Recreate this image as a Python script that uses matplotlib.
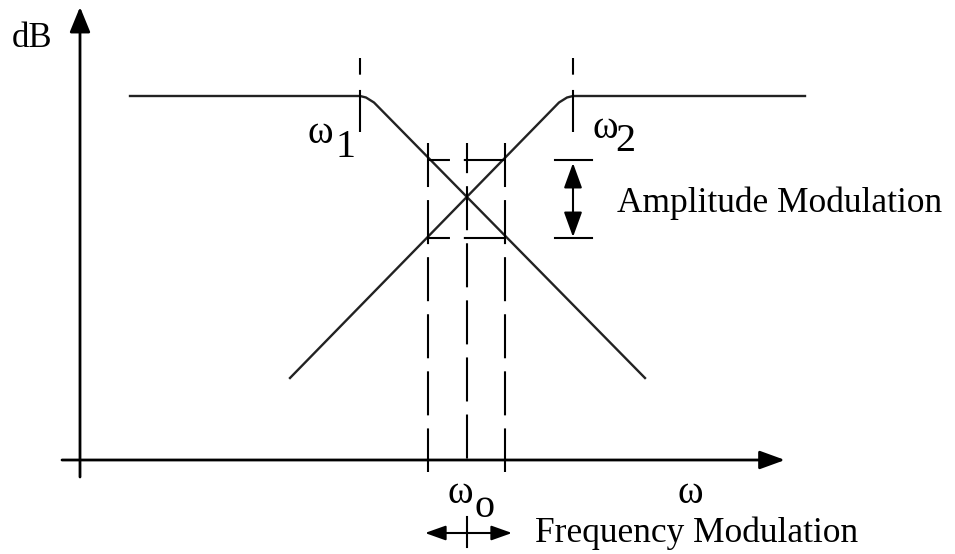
import matplotlib
matplotlib.use("Agg")
import matplotlib.pyplot as plt

plt.rcParams["font.family"] = ["Liberation Serif", "DejaVu Serif"]
plt.rcParams["lines.scale_dashes"] = False

# schematic values (omega in arbitrary units, level in dB)
flat_db = 36.4
w1, w2 = 28.0, 49.3          # corner frequencies
w0 = 38.7                    # carrier
fm_lo, fm_hi = 34.8, 42.5    # frequency deviation band
am_hi, am_lo = 30.0, 22.2    # resulting amplitude swing

low_w = [5.0, 28.0, 28.6, 29.4, 56.5]      # falling response (left filter)
low_db = [36.4, 36.4, 36.25, 35.75, 8.2]
high_w = [21.0, 47.9, 48.7, 49.3, 72.5]    # rising response (right filter)
high_db = [8.2, 35.75, 36.25, 36.4, 36.4]

x_axis = (-1.8, 70.5)
y_axis = (-1.7, 45.3)

fig = plt.figure(figsize=(9.55, 5.54), dpi=100)
ax = fig.add_axes([0, 0, 1, 1])
ax.set_xlim(-8, 87.5)
ax.set_ylim(-9.4, 46)
ax.axis("off")

ink = "black"
curve = "#222222"

# axes with arrows
ax.annotate("", xy=(x_axis[1], 0), xytext=(x_axis[0], 0),
            arrowprops=dict(arrowstyle="-|>,head_length=1.1,head_width=0.4",
                            color=ink, lw=2, shrinkA=0, shrinkB=0, mutation_scale=14))
ax.annotate("", xy=(0, y_axis[1]), xytext=(0, y_axis[0]),
            arrowprops=dict(arrowstyle="-|>,head_length=1.1,head_width=0.45",
                            color=ink, lw=2, shrinkA=0, shrinkB=0, mutation_scale=14))

# filter responses
ax.plot(low_w, low_db, color=curve, lw=1.7)
ax.plot(high_w, high_db, color=curve, lw=1.7)

# corner markers
for w in [w1, w2]:
    ax.plot([w, w], [40.2, 32.8], color=ink, lw=1.5, linestyle=(0, (12, 11, 40, 10)))

# frequency band dashed lines
for w in [fm_lo, fm_hi]:
    ax.plot([w, w], [31.7, -1.2], color=ink, lw=1.5, linestyle=(0, (31.7, 9.4)))
ax.plot([w0, w0], [31.7, 0], color=ink, lw=1.5, linestyle=(10, (31.7, 9.4)))
for lvl in [am_hi, am_lo]:
    ax.plot([fm_lo, fm_hi], [lvl, lvl], color=ink, lw=1.5, linestyle=(0, (15.8, 10, 40, 10)))

# amplitude modulation marker
for lvl in [am_hi, am_lo]:
    ax.plot([w2 - 1.8, w2 + 1.9], [lvl, lvl], color=ink, lw=1.5)
ax.annotate("", xy=(w2, am_hi - 0.3), xytext=(w2, am_lo + 0.1),
            arrowprops=dict(arrowstyle="<|-|>,head_length=1.1,head_width=0.4",
                            color=ink, lw=1.5, shrinkA=0, shrinkB=0, mutation_scale=14))
ax.text(53.7, 24.8, "Amplitude Modulation", fontsize=25.5, ha="left", va="baseline", color=ink)

# frequency modulation marker
fm_y = -7.3
ax.annotate("", xy=(fm_lo - 0.3, fm_y), xytext=(fm_hi + 0.7, fm_y),
            arrowprops=dict(arrowstyle="<|-|>,head_length=0.9,head_width=0.32",
                            color=ink, lw=1.5, shrinkA=0, shrinkB=0, mutation_scale=14))
ax.plot([w0, w0], [-5.7, -8.7], color=ink, lw=1.5)
ax.text(45.5, -8.2, "Frequency Modulation", fontsize=25.5, ha="left", va="baseline", color=ink)

# labels
ax.text(-6.8, 41.3, "dB", fontsize=25, ha="left", va="baseline", color=ink)
ax.text(22.7, 31.7, "ω", fontsize=28, ha="left", va="baseline", color=ink)
ax.text(25.5, 30.3, "1", fontsize=29, ha="left", va="baseline", color=ink)
ax.text(51.2, 32.2, "ω", fontsize=28, ha="left", va="baseline", color=ink)
ax.text(53.5, 30.9, "2", fontsize=29, ha="left", va="baseline", color=ink)
ax.text(36.7, -4.3, "ω", fontsize=28, ha="left", va="baseline", color=ink)
ax.text(39.4, -5.7, "o", fontsize=29, ha="left", va="baseline", color=ink)
ax.text(59.7, -4.3, "ω", fontsize=28, ha="left", va="baseline", color=ink)

fig.savefig("out.png", dpi=100)
